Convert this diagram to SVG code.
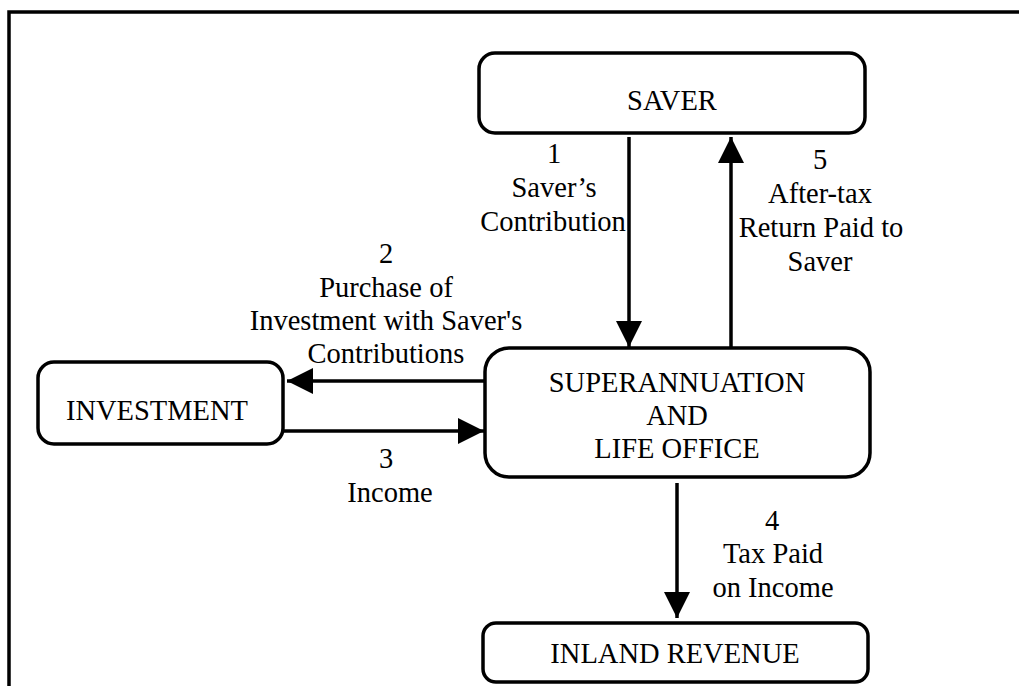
<svg xmlns="http://www.w3.org/2000/svg" width="1019" height="686" viewBox="0 0 1019 686">
<defs>
<style>
.box{fill:#fff;stroke:#000;stroke-width:3.5}
.t{font-family:"Liberation Serif","Times New Roman",serif;font-size:28.5px;fill:#000;text-anchor:middle}
.c{stroke:#000;stroke-width:3.5;fill:none}
.frame{stroke:#000;stroke-width:3.5;fill:none}
</style>
<marker id="ah" markerUnits="userSpaceOnUse" markerWidth="26" markerHeight="26" viewBox="0 0 26 26" refX="26" refY="13" orient="auto">
<path d="M0,0 L26,13 L0,26 Z" fill="#000"/>
</marker>
</defs>
<rect width="1019" height="686" fill="#fff"/>
<path class="frame" d="M9,686 L9,12 L1019,12"/>
<g id="saver">
<rect class="box" x="479" y="53" width="386" height="80" rx="16"/>
<text class="t" x="672" y="110">SAVER</text>
</g>
<g id="office">
<rect class="box" x="485" y="348" width="385" height="129" rx="24"/>
<text class="t" x="677" y="392">SUPERANNUATION</text>
<text class="t" x="677" y="425">AND</text>
<text class="t" x="677" y="458">LIFE OFFICE</text>
</g>
<g id="investment">
<rect class="box" x="38" y="362" width="245" height="82" rx="16"/>
<text class="t" x="157" y="420">INVESTMENT</text>
</g>
<g id="inland">
<rect class="box" x="483" y="623" width="385" height="59" rx="13"/>
<text class="t" x="675" y="663">INLAND REVENUE</text>
</g>
<g id="connectors">
<line class="c" x1="629" y1="137" x2="629" y2="347" marker-end="url(#ah)"/>
<line class="c" x1="731" y1="347" x2="731" y2="137" marker-end="url(#ah)"/>
<line class="c" x1="484" y1="381" x2="287" y2="381" marker-end="url(#ah)"/>
<line class="c" x1="284" y1="431" x2="484" y2="431" marker-end="url(#ah)"/>
<line class="c" x1="677" y1="483" x2="677" y2="618" marker-end="url(#ah)"/>
</g>
<g id="labels">
<text class="t" x="554" y="163">1</text>
<text class="t" x="554" y="197">Saver’s</text>
<text class="t" x="553" y="231">Contribution</text>
<text class="t" x="820" y="169">5</text>
<text class="t" x="820" y="203">After-tax</text>
<text class="t" x="821" y="237">Return Paid to</text>
<text class="t" x="820" y="271">Saver</text>
<text class="t" x="386" y="263">2</text>
<text class="t" x="386" y="297">Purchase of</text>
<text class="t" x="386" y="330">Investment with Saver's</text>
<text class="t" x="386" y="363">Contributions</text>
<text class="t" x="386" y="468">3</text>
<text class="t" x="390" y="502">Income</text>
<text class="t" x="772" y="530">4</text>
<text class="t" x="773" y="563">Tax Paid</text>
<text class="t" x="773" y="597">on Income</text>
</g>
</svg>
